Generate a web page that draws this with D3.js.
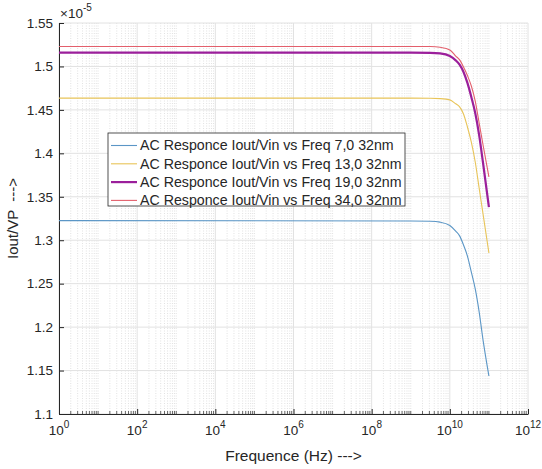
<!DOCTYPE html>
<html>
<head>
<meta charset="utf-8">
<script src="https://cdn.jsdelivr.net/npm/d3@7"></script>
<style>
  body { margin: 0; background: #fff; }
  text { font-family: "Liberation Sans", Arial, sans-serif; fill: #262626; }
</style>
</head>
<body>
<div id="chart"></div>
<script>
// frequency points as powers of ten (Hz)
var freqExp = [0, 9, 9.5, 9.75, 10, 10.15, 10.25, 10.35, 10.45, 10.55, 10.65, 10.75, 10.85, 11];

// Iout/VP in units of 1e-5
var iout7  = [1.3225, 1.3222, 1.3218, 1.3208, 1.3170, 1.3105, 1.3050, 1.2945, 1.2818, 1.2634, 1.2439, 1.2175, 1.1850, 1.1437];
var iout13 = [1.4635, 1.4635, 1.4634, 1.4630, 1.4615, 1.4570, 1.4535, 1.4453, 1.4303, 1.4130, 1.3900, 1.3600, 1.3300, 1.2853];
var iout19 = [1.5158, 1.5158, 1.5157, 1.5150, 1.5120, 1.5070, 1.5020, 1.4936, 1.4810, 1.4648, 1.4464, 1.4210, 1.3889, 1.3382];
var iout34 = [1.5230, 1.5230, 1.5229, 1.5220, 1.5190, 1.5120, 1.5075, 1.4994, 1.4896, 1.4775, 1.4602, 1.4349, 1.4096, 1.3730];

var seriesNames = [
  "AC Responce Iout/Vin vs Freq 7,0 32nm",
  "AC Responce Iout/Vin vs Freq 13,0 32nm",
  "AC Responce Iout/Vin vs Freq 19,0 32nm",
  "AC Responce Iout/Vin vs Freq 34,0 32nm"
];
var seriesColors = ["#5b96c6", "#e8c458", "#9b1f9b", "#e35f6c"];
var seriesWidths = [1.1, 1.1, 2.2, 1.1];

var yTicks = [1.1, 1.15, 1.2, 1.25, 1.3, 1.35, 1.4, 1.45, 1.5, 1.55];
var xTickExp = [0, 2, 4, 6, 8, 10, 12];

var allSeries = [iout7, iout13, iout19, iout34];

var W = 542, H = 469;
var margin = { top: 23, right: 14, bottom: 55, left: 59 },
  width = W - margin.left - margin.right,
  height = H - margin.top - margin.bottom;

var svg = d3.select("#chart").append("svg")
  .attr("width", W)
  .attr("height", H);

var g = svg.append("g")
  .attr("transform", "translate(" + margin.left + "," + margin.top + ")");

var x = d3.scaleLog().domain([1, 1e12]).range([0, width]);
var y = d3.scaleLinear().domain([1.1, 1.55]).range([height, 0]);

// minor x positions: 2..9 x 10^k and odd decades
var minorX = [];
for (var k = 0; k < 12; k++) {
  for (var m = 2; m <= 10; m++) {
    var v = m * Math.pow(10, k);
    if (m == 10 && (k + 1) % 2 == 0) continue;
    minorX.push(v);
  }
}
var majorX = xTickExp.map(function(e) { return Math.pow(10, e); });

// grid
g.append("g").selectAll("line").data(minorX).enter().append("line")
  .attr("x1", function(d) { return x(d); }).attr("x2", function(d) { return x(d); })
  .attr("y1", 0).attr("y2", height)
  .attr("stroke", "#cfcfcf").attr("stroke-width", 0.6)
  .attr("stroke-dasharray", "1,1.5");

g.append("g").selectAll("line").data(majorX).enter().append("line")
  .attr("x1", function(d) { return x(d); }).attr("x2", function(d) { return x(d); })
  .attr("y1", 0).attr("y2", height)
  .attr("stroke", "#e2e2e2").attr("stroke-width", 1);

g.append("g").selectAll("line").data(yTicks).enter().append("line")
  .attr("x1", 0).attr("x2", width)
  .attr("y1", function(d) { return y(d); }).attr("y2", function(d) { return y(d); })
  .attr("stroke", "#e2e2e2").attr("stroke-width", 1);

// axes
var xAxis = d3.axisBottom(x).tickValues(majorX).tickSizeInner(-5).tickSizeOuter(0).tickFormat("");
var xg = g.append("g").attr("transform", "translate(0," + height + ")").call(xAxis);
xg.select(".domain").attr("stroke", "#262626");
xg.selectAll(".tick line").attr("stroke", "#262626");

g.append("g").selectAll("line").data(minorX).enter().append("line")
  .attr("x1", function(d) { return x(d); }).attr("x2", function(d) { return x(d); })
  .attr("y1", height).attr("y2", height - 3)
  .attr("stroke", "#262626").attr("stroke-width", 0.7);

xTickExp.forEach(function(e) {
  var t = g.append("text")
    .attr("x", x(Math.pow(10, e)))
    .attr("y", height + 21)
    .attr("text-anchor", "middle")
    .style("font-size", "13.5px");
  t.append("tspan").text("10");
  t.append("tspan").attr("dy", -7).style("font-size", "10px").text(e);
});

var yAxis = d3.axisLeft(y).tickValues(yTicks).tickSizeInner(-5).tickSizeOuter(0)
  .tickPadding(6)
  .tickFormat(function(d) { return String(+d.toFixed(2)); });
var yg = g.append("g").call(yAxis);
yg.select(".domain").attr("stroke", "#262626");
yg.selectAll(".tick line").attr("stroke", "#262626");
yg.selectAll(".tick text")
  .attr("x", -6)
  .style("font-size", "13.5px")
  .style("font-family", "'Liberation Sans', Arial, sans-serif")
  .attr("fill", "#262626");

// exponent label
var ex = svg.append("text").attr("x", margin.left + 1).attr("y", 18).style("font-size", "13.5px");
ex.append("tspan").text("\u00d710");
ex.append("tspan").attr("dy", -7).style("font-size", "10px").text("-5");

// axis titles
svg.append("text")
  .attr("x", margin.left + width / 2)
  .attr("y", 461)
  .attr("text-anchor", "middle")
  .style("font-size", "15.5px")
  .text("Frequence (Hz) --->");

svg.append("text")
  .attr("transform", "translate(18," + (margin.top + height / 2) + ") rotate(-90)")
  .attr("text-anchor", "middle")
  .style("font-size", "15px")
  .style("white-space", "pre")
  .text("Iout/VP  --->");

// lines
var line = d3.line()
  .x(function(d) { return x(Math.pow(10, d[0])); })
  .y(function(d) { return y(d[1]); })
  .curve(d3.curveMonotoneX);

allSeries.forEach(function(s, i) {
  var pts = freqExp.map(function(e, j) { return [e, s[j]]; });
  g.append("path")
    .datum(pts)
    .attr("fill", "none")
    .attr("stroke", seriesColors[i])
    .attr("stroke-width", seriesWidths[i])
    .attr("d", line);
});

// legend
var lg = svg.append("g").attr("transform", "translate(108,133)");
lg.append("rect")
  .attr("width", 297).attr("height", 73)
  .attr("fill", "#fff").attr("stroke", "#262626").attr("stroke-width", 0.8);

seriesNames.forEach(function(name, i) {
  var yy = 12.5 + i * 18.3;
  lg.append("line")
    .attr("x1", 3).attr("x2", 29)
    .attr("y1", yy).attr("y2", yy)
    .attr("stroke", seriesColors[i])
    .attr("stroke-width", seriesWidths[i]);
  lg.append("text")
    .attr("x", 32).attr("y", yy)
    .attr("dy", "0.35em")
    .style("font-size", "14.2px")
    .text(name);
});
</script>
</body>
</html>
